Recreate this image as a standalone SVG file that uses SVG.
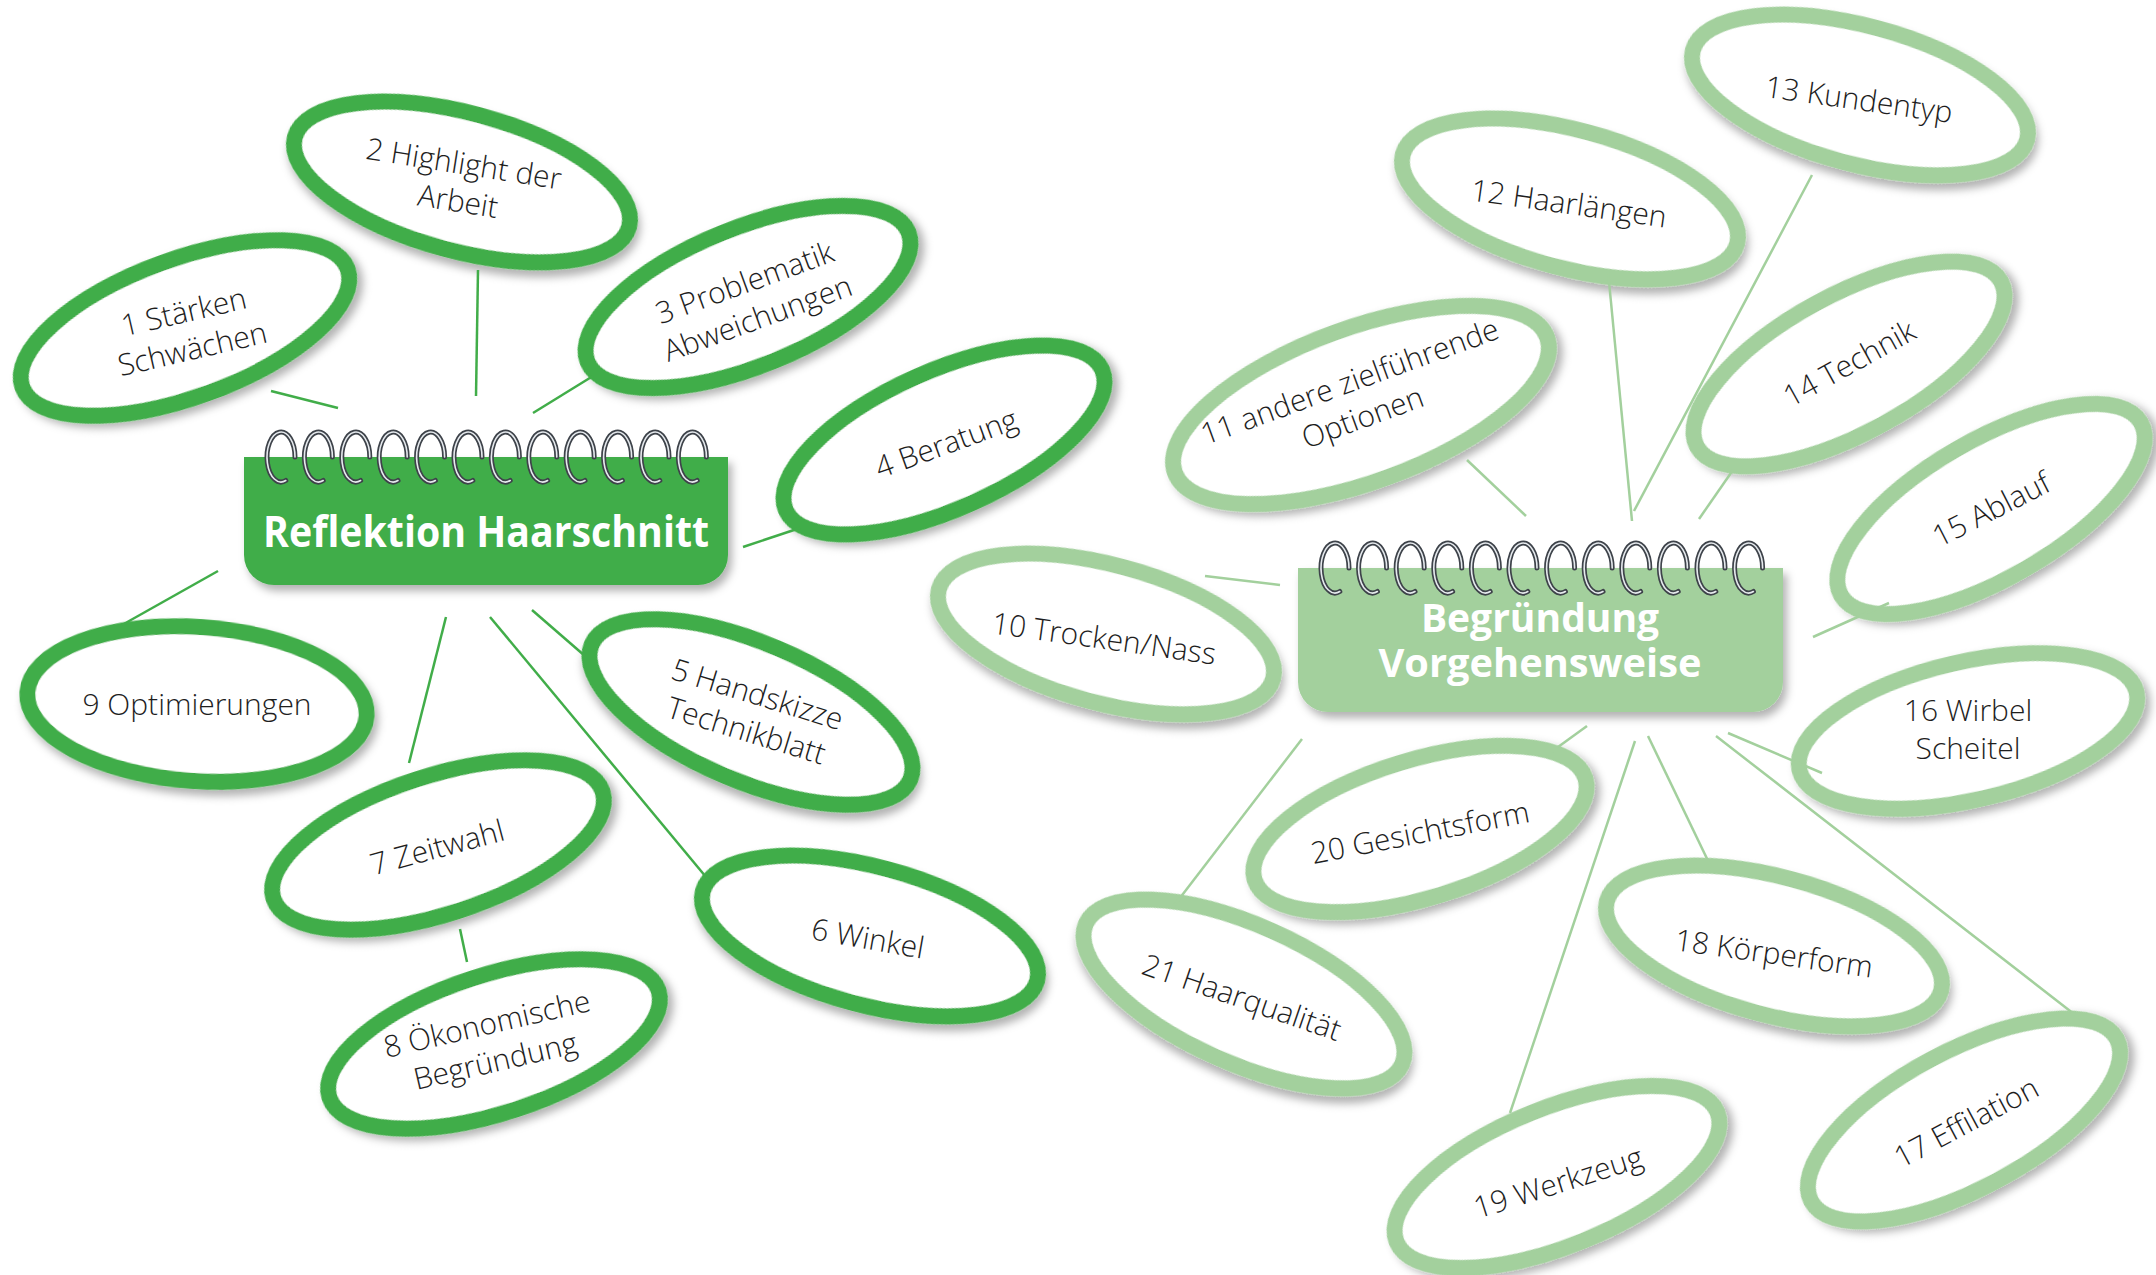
<svg xmlns="http://www.w3.org/2000/svg" width="2156" height="1275" viewBox="0 0 2156 1275">
<style>
.dk{fill:#fff;stroke:#41ad49;stroke-width:16}
.lt{fill:#fff;stroke:#a3d09d;stroke-width:16}
.cdk{stroke:#41ad49;stroke-width:2.5;fill:none}
.clt{stroke:#a3d09d;stroke-width:2.5;fill:none}
.lbl{font-family:"Open Sans","Liberation Sans",sans-serif;font-weight:300;font-size:30px;fill:#1e1e1e;text-anchor:middle}
.ttl{font-family:"Open Sans","Liberation Sans",sans-serif;font-weight:700;fill:#fff;text-anchor:middle}
</style>
<defs>
<filter id="sh" x="-20%" y="-20%" width="140%" height="150%">
<feDropShadow dx="4" dy="6" stdDeviation="4" flood-color="#000" flood-opacity="0.3"/>
</filter>
<g id="ring">
<path d="M14,0 A14,25 0 1 0 4.8,23.5" fill="none" stroke="#3e434a" stroke-width="5" stroke-linecap="round"/>
<path d="M14,0 A14,25 0 1 0 4.8,23.5" fill="none" stroke="#e6eaee" stroke-width="1.6" stroke-linecap="round"/>
</g>
</defs>
<rect width="2156" height="1275" fill="#fff"/>

<g id="center-left">
<path d="M244,457 H728 V555 A30,30 0 0 1 698,585 H274 A30,30 0 0 1 244,555 Z" fill="#41ad49" filter="url(#sh)"/>
<use href="#ring" x="281" y="457"/><use href="#ring" x="318.4" y="457"/><use href="#ring" x="355.8" y="457"/><use href="#ring" x="393.2" y="457"/><use href="#ring" x="430.6" y="457"/><use href="#ring" x="468" y="457"/><use href="#ring" x="505.4" y="457"/><use href="#ring" x="542.8" y="457"/><use href="#ring" x="580.2" y="457"/><use href="#ring" x="617.6" y="457"/><use href="#ring" x="655" y="457"/><use href="#ring" x="692.4" y="457"/>
<text class="ttl" x="486" y="547" font-size="43" textLength="446" lengthAdjust="spacingAndGlyphs">Reflektion Haarschnitt</text>
</g>

<g id="center-right">
<path d="M1298,568 H1783 V682 A30,30 0 0 1 1753,712 H1328 A30,30 0 0 1 1298,682 Z" fill="#a3d09d" filter="url(#sh)"/>
<use href="#ring" x="1335" y="568"/><use href="#ring" x="1372.6" y="568"/><use href="#ring" x="1410.2" y="568"/><use href="#ring" x="1447.8" y="568"/><use href="#ring" x="1485.4" y="568"/><use href="#ring" x="1523" y="568"/><use href="#ring" x="1560.6" y="568"/><use href="#ring" x="1598.2" y="568"/><use href="#ring" x="1635.8" y="568"/><use href="#ring" x="1673.4" y="568"/><use href="#ring" x="1711" y="568"/><use href="#ring" x="1748.6" y="568"/>
<text class="ttl" x="1540" y="632" font-size="39">Begründung</text>
<text class="ttl" x="1540" y="677" font-size="39" textLength="323" lengthAdjust="spacingAndGlyphs">Vorgehensweise</text>
</g>

<g id="n1"><ellipse class="dk" filter="url(#sh)" transform="translate(185,328) rotate(-20)" rx="173" ry="69"/>
<text class="lbl" transform="translate(188,330) rotate(-13)"><tspan x="0" y="-8">1 Stärken</tspan><tspan x="0" y="30">Schwächen</tspan></text></g>
<g id="n2"><ellipse class="dk" filter="url(#sh)" transform="translate(462,182) rotate(15)" rx="173" ry="69"/>
<text class="lbl" transform="translate(461,182) rotate(9)"><tspan x="0" y="-8">2 Highlight der</tspan><tspan x="0" y="30">Arbeit</tspan></text></g>
<g id="n3"><ellipse class="dk" filter="url(#sh)" transform="translate(748,297) rotate(-22)" rx="173" ry="69"/>
<text class="lbl" transform="translate(751,300) rotate(-20)"><tspan x="0" y="-8">3 Problematik</tspan><tspan x="0" y="30">Abweichungen</tspan></text></g>
<g id="n4"><ellipse class="dk" filter="url(#sh)" transform="translate(944,440) rotate(-24)" rx="173" ry="69"/>
<text class="lbl" transform="translate(946,443) rotate(-20)" x="0" y="11">4 Beratung</text></g>
<g id="n5"><ellipse class="dk" filter="url(#sh)" transform="translate(751,712) rotate(23)" rx="173" ry="69"/>
<text class="lbl" transform="translate(752,712) rotate(17)"><tspan x="0" y="-8">5 Handskizze</tspan><tspan x="0" y="30">Technikblatt</tspan></text></g>
<g id="n6"><ellipse class="dk" filter="url(#sh)" transform="translate(870,936) rotate(15)" rx="173" ry="69"/>
<text class="lbl" transform="translate(868,938) rotate(10)" x="0" y="11">6 Winkel</text></g>
<g id="n7"><ellipse class="dk" filter="url(#sh)" transform="translate(438,845) rotate(-18)" rx="173" ry="69"/>
<text class="lbl" transform="translate(437,847) rotate(-15)" x="0" y="11">7 Zeitwahl</text></g>
<g id="n8"><ellipse class="dk" filter="url(#sh)" transform="translate(494,1044) rotate(-18)" rx="173" ry="69"/>
<text class="lbl" transform="translate(491,1042) rotate(-13)"><tspan x="0" y="-8">8 Ökonomische</tspan><tspan x="0" y="30">Begründung</tspan></text></g>
<g id="n9"><ellipse class="dk" filter="url(#sh)" transform="translate(197,704) rotate(4)" rx="170" ry="77"/>
<text class="lbl" x="197" y="715">9 Optimierungen</text></g>

<g id="n10"><ellipse class="lt" filter="url(#sh)" transform="translate(1106,634) rotate(15)" rx="173" ry="69"/>
<text class="lbl" transform="translate(1104,638) rotate(8)" x="0" y="11">10 Trocken/Nass</text></g>
<g id="n11"><ellipse class="lt" filter="url(#sh)" transform="translate(1361,405) rotate(-20)" rx="198" ry="77"/>
<text class="lbl" transform="translate(1356,399) rotate(-20)"><tspan x="0" y="-8">11 andere zielführende</tspan><tspan x="0" y="30">Optionen</tspan></text></g>
<g id="n12"><ellipse class="lt" filter="url(#sh)" transform="translate(1570,199) rotate(15)" rx="173" ry="69"/>
<text class="lbl" transform="translate(1569,203) rotate(8)" x="0" y="11">12 Haarlängen</text></g>
<g id="n13"><ellipse class="lt" filter="url(#sh)" transform="translate(1860,95) rotate(15)" rx="173" ry="69"/>
<text class="lbl" transform="translate(1859,99) rotate(8)" x="0" y="11">13 Kundentyp</text></g>
<g id="n14"><ellipse class="lt" filter="url(#sh)" transform="translate(1849,364) rotate(-28.5)" rx="173" ry="69"/>
<text class="lbl" transform="translate(1849,363) rotate(-29)" x="0" y="11">14 Technik</text></g>
<g id="n15"><ellipse class="lt" filter="url(#sh)" transform="translate(1991,509) rotate(-30)" rx="173" ry="69"/>
<text class="lbl" transform="translate(1991,509) rotate(-27)" x="0" y="11">15 Ablauf</text></g>
<g id="n16"><ellipse class="lt" filter="url(#sh)" transform="translate(1968,731) rotate(-13)" rx="173" ry="69"/>
<text class="lbl"><tspan x="1968" y="721">16 Wirbel</tspan><tspan x="1968" y="759">Scheitel</tspan></text></g>
<g id="n17"><ellipse class="lt" filter="url(#sh)" transform="translate(1964,1120) rotate(-28)" rx="173" ry="69"/>
<text class="lbl" transform="translate(1966,1122) rotate(-28)" x="0" y="11">17 Effilation</text></g>
<g id="n18"><ellipse class="lt" filter="url(#sh)" transform="translate(1774,946) rotate(15)" rx="173" ry="69"/>
<text class="lbl" transform="translate(1774,953) rotate(8)" x="0" y="11">18 Körperform</text></g>
<g id="n19"><ellipse class="lt" filter="url(#sh)" transform="translate(1557,1177) rotate(-22)" rx="173" ry="69"/>
<text class="lbl" transform="translate(1558,1182) rotate(-17.5)" x="0" y="11">19 Werkzeug</text></g>
<g id="n20"><ellipse class="lt" filter="url(#sh)" transform="translate(1420,829) rotate(-17)" rx="173" ry="69"/>
<text class="lbl" transform="translate(1420,832) rotate(-11)" x="0" y="11">20 Gesichtsform</text></g>
<g id="n21"><ellipse class="lt" filter="url(#sh)" transform="translate(1244,994) rotate(24)" rx="173" ry="69"/>
<text class="lbl" transform="translate(1242,997) rotate(19)" x="0" y="11">21 Haarqualität</text></g>

<g id="connectors">
<line class="cdk" x1="271" y1="391" x2="338" y2="408"/>
<line class="cdk" x1="478" y1="270" x2="476" y2="396"/>
<line class="cdk" x1="593" y1="376" x2="533" y2="413"/>
<line class="cdk" x1="800" y1="528" x2="743" y2="547"/>
<line class="cdk" x1="532" y1="610" x2="585" y2="656"/>
<line class="cdk" x1="490" y1="617" x2="711" y2="883"/>
<line class="cdk" x1="446" y1="617" x2="409" y2="763"/>
<line class="cdk" x1="460" y1="929" x2="467" y2="962"/>
<line class="cdk" x1="218" y1="571" x2="122" y2="625"/>
<line class="clt" x1="1205" y1="576" x2="1280" y2="585"/>
<line class="clt" x1="1467" y1="460" x2="1526" y2="516"/>
<line class="clt" x1="1608" y1="271" x2="1632" y2="521"/>
<line class="clt" x1="1812" y1="175" x2="1634" y2="511"/>
<line class="clt" x1="1733" y1="470" x2="1699" y2="519"/>
<line class="clt" x1="1889" y1="603" x2="1813" y2="637"/>
<line class="clt" x1="1822" y1="773" x2="1728" y2="733"/>
<line class="clt" x1="2092" y1="1028" x2="1716" y2="736"/>
<line class="clt" x1="1711" y1="867" x2="1648" y2="736"/>
<line class="clt" x1="1510" y1="1113" x2="1635" y2="741"/>
<line class="clt" x1="1547" y1="755" x2="1587" y2="726"/>
<line class="clt" x1="1173" y1="907" x2="1302" y2="739"/>
</g>
</svg>
